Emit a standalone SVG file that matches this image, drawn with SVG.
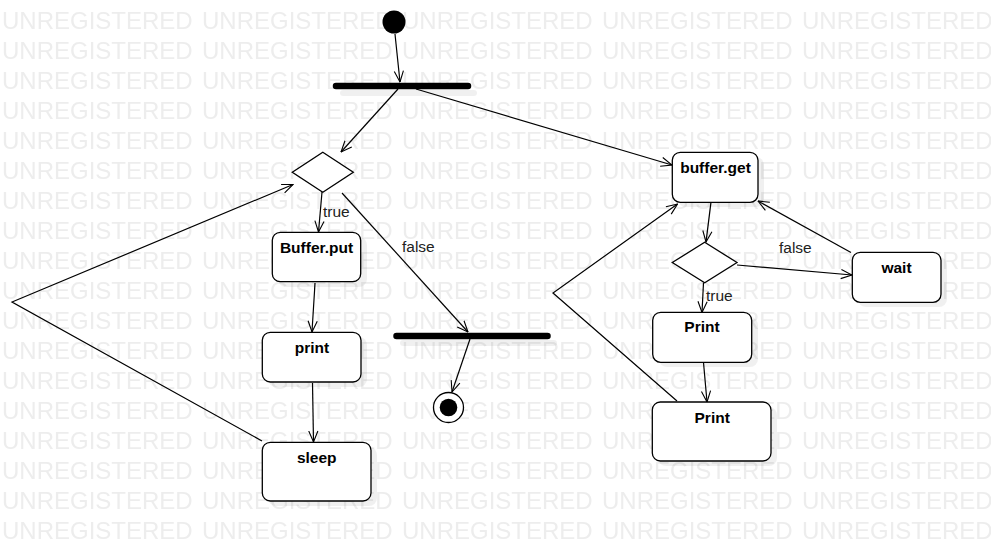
<svg xmlns="http://www.w3.org/2000/svg" width="991" height="551" viewBox="0 0 991 551">
<style>
.wm{font-family:"Liberation Sans",Arial,sans-serif;font-size:24px;fill:#ededed}
.node{fill:#ffffff;stroke:#000;stroke-width:1.3}
.shadow{fill:#000;opacity:0.06}
.lbl{font-family:"Liberation Sans",Arial,sans-serif;font-size:15.5px;font-weight:bold;fill:#000;text-anchor:middle}
.edge{font-family:"Liberation Sans",Arial,sans-serif;font-size:15.5px;fill:#222}
.ln{fill:none;stroke:#000;stroke-width:1.2}
.bar{stroke:#000;stroke-width:6.5;stroke-linecap:round}
</style>
<defs>
<marker id="arr" markerUnits="userSpaceOnUse" viewBox="0 0 12 12" refX="12" refY="6" markerWidth="12" markerHeight="11" orient="auto">
<path d="M0,1 L12,6 L0,11" fill="none" stroke="#000" stroke-width="1.2"/>
</marker>
<pattern id="wmp" patternUnits="userSpaceOnUse" x="0" y="0" width="200" height="30">
<text class="wm" x="2" y="29">UNREGISTERED</text>
</pattern>
</defs>
<rect width="991" height="551" fill="#fff"/>
<rect width="991" height="551" fill="url(#wmp)"/>

<g id="shadows">
<rect class="shadow" x="278" y="237" width="89" height="50" rx="8"/>
<rect class="shadow" x="268" y="337" width="99" height="50" rx="8"/>
<rect class="shadow" x="268" y="447" width="109" height="59" rx="8"/>
<rect class="shadow" x="678" y="157" width="86" height="50" rx="8"/>
<rect class="shadow" x="858" y="257" width="89" height="50" rx="8"/>
<rect class="shadow" x="659" y="317" width="99" height="50" rx="8"/>
<rect class="shadow" x="658" y="407" width="119" height="59" rx="8"/>
<line x1="343" y1="93" x2="474" y2="93" stroke="#000" stroke-opacity="0.06" stroke-width="6" stroke-linecap="round"/>
<line x1="403" y1="343" x2="554" y2="343" stroke="#000" stroke-opacity="0.06" stroke-width="6" stroke-linecap="round"/>
</g>

<g id="connectors">
<line class="ln" x1="395" y1="34" x2="400" y2="82" marker-end="url(#arr)"/>
<line class="ln" x1="398" y1="89" x2="341" y2="152" marker-end="url(#arr)"/>
<line class="ln" x1="416" y1="89" x2="672" y2="165" marker-end="url(#arr)"/>
<line class="ln" x1="322" y1="192" x2="318.5" y2="232" marker-end="url(#arr)"/>
<line class="ln" x1="315" y1="283" x2="312" y2="332" marker-end="url(#arr)"/>
<line class="ln" x1="312.5" y1="383" x2="313.5" y2="442" marker-end="url(#arr)"/>
<polyline class="ln" points="262,441 12,302 293,184.5" marker-end="url(#arr)"/>
<line class="ln" x1="342" y1="193" x2="468" y2="332" marker-end="url(#arr)"/>
<line class="ln" x1="470" y1="339" x2="452" y2="392" marker-end="url(#arr)"/>
<line class="ln" x1="711" y1="202" x2="706" y2="242" marker-end="url(#arr)"/>
<line class="ln" x1="737" y1="265" x2="852" y2="275" marker-end="url(#arr)"/>
<line class="ln" x1="851" y1="252.5" x2="758" y2="201" marker-end="url(#arr)"/>
<line class="ln" x1="703.5" y1="282.5" x2="702" y2="312.5" marker-end="url(#arr)"/>
<line class="ln" x1="703.5" y1="362.5" x2="707" y2="402" marker-end="url(#arr)"/>
<polyline class="ln" points="677,401 553,293 677.5,204" marker-end="url(#arr)"/>
<text class="edge" x="323" y="217">true</text>
<text class="edge" x="402" y="252">false</text>
<text class="edge" x="779" y="253">false</text>
<text class="edge" x="706" y="301">true</text>
</g>

<g id="initial"><circle cx="394" cy="22" r="11.5" fill="#000"/></g>
<g id="fork1"><line class="bar" x1="336" y1="86" x2="468" y2="86"/></g>
<g id="decision1"><polygon class="node" points="322.8,152.3 353.3,172.3 322.8,192.3 292.3,172.3"/></g>
<g id="bufferPut"><rect class="node" x="272.3" y="232.3" width="88.4" height="49.4" rx="8"/><text class="lbl" x="316.5" y="253">Buffer.put</text></g>
<g id="print1"><rect class="node" x="262.3" y="332.3" width="98.7" height="49.7" rx="8"/><text class="lbl" x="312" y="352.5">print</text></g>
<g id="sleep"><rect class="node" x="262.3" y="442.3" width="108.7" height="58.7" rx="8"/><text class="lbl" x="316.7" y="462.5">sleep</text></g>
<g id="join1"><line class="bar" x1="396.5" y1="336" x2="547.5" y2="336"/></g>
<g id="final"><circle cx="448.5" cy="407.5" r="15" fill="#fff" stroke="#000" stroke-width="1.3"/><circle cx="448.5" cy="407.5" r="8.8" fill="#000"/></g>

<g id="bufferGet"><rect class="node" x="672.3" y="152.3" width="85.7" height="50" rx="8"/><text class="lbl" x="715.5" y="172.5">buffer.get</text></g>
<g id="decision2"><polygon class="node" points="704.7,242.3 737,262.5 704.7,282.7 672.3,262.5"/></g>
<g id="wait"><rect class="node" x="852.3" y="252.3" width="88.7" height="50" rx="8"/><text class="lbl" x="896.5" y="272.7">wait</text></g>
<g id="printA"><rect class="node" x="652.7" y="312.3" width="99" height="50" rx="8"/><text class="lbl" x="702" y="332">Print</text></g>
<g id="printB"><rect class="node" x="652.3" y="402" width="118.7" height="59" rx="8"/><text class="lbl" x="712.2" y="422.7">Print</text></g>
</svg>
